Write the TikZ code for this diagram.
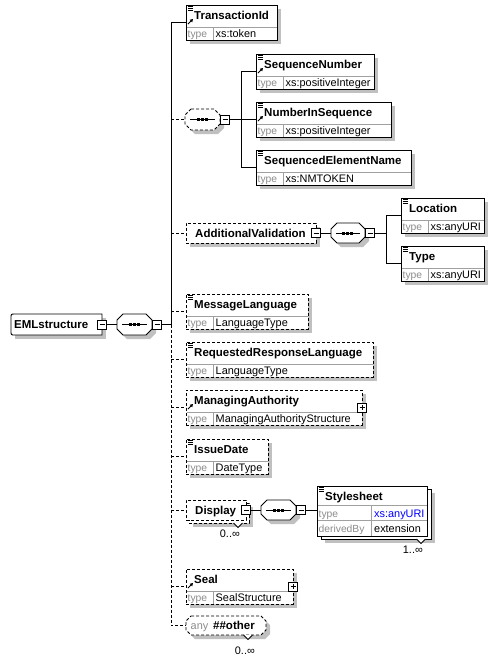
\documentclass[tikz,border=0pt]{standalone}
\usepackage{fontspec}
\setmainfont{Liberation Sans}
\usetikzlibrary{arrows.meta,calc}
\pgfdeclarelayer{bg}
\pgfsetlayers{bg,main}
\definecolor{shadowc}{HTML}{C0C0C0}
\definecolor{divc}{HTML}{A0A0A0}
\definecolor{graytxt}{HTML}{8C8C8C}
\definecolor{uriblue}{HTML}{0000FF}
\tikzset{
  wire/.style={line width=0.9pt},
  optwire/.style={line width=0.9pt, dash pattern=on 3pt off 2pt},
  ebox/.style={draw, fill=white, line width=0.9pt, inner sep=0pt, outer sep=0pt, anchor=north west},
  optbox/.style={ebox, dash pattern=on 3pt off 2pt},
  frame/.style={inner sep=0pt, outer sep=0pt, anchor=north west},
  divider/.style={draw=divc, line width=0.8pt},
  nametxt/.style={font=\fontsize{11.5}{13}\selectfont\bfseries, anchor=base west, inner sep=0pt},
  typelbl/.style={font=\fontsize{10.3}{12}\selectfont, text=graytxt, anchor=base west, inner sep=0pt},
  typetxt/.style={font=\fontsize{10.9}{12}\selectfont, anchor=base west, inner sep=0pt},
  occtxt/.style={font=\fontsize{10.9}{12}\selectfont, anchor=base east, inner sep=0pt},
  pmbox/.style={draw, fill=white, line width=0.9pt, minimum size=9pt, inner sep=0pt, outer sep=0pt},
}
% element box with name row and type row
\newcommand\typedbox[7]{%
  \node[#2, minimum width=#5pt, minimum height=35pt] (#1) at (#3,#4) {};
  \begin{pgfonlayer}{bg}
    \fill[shadowc] ($(#1.north west)+(4,4)$) rectangle ($(#1.south east)+(4,4)$);
  \end{pgfonlayer}
  \draw[divider] ($(#1.north west)+(0.5,22)$) -- ($(#1.north east)+(-0.5,22)$);
  \draw[divider] ($(#1.north west)+(27,22)$) -- ($(#1.south west)+(27,-0.5)$);
  \node[nametxt] (#1-n) at ($(#1.north west)+(8,14)$) {#6};
  \node[typelbl] (#1-tl) at ($(#1.south west)+(1.5,-3)$) {type};
  \node[typetxt] (#1-t) at ($(#1.south west)+(29.5,-3)$) {#7};
}
\newcommand\simpleicon[1]{%
  \foreach \dy in {1.5,3.5,5.5}{\draw[line width=0.9pt] ($(#1.north west)+(2,\dy)$) -- ++(5,0);}%
}
\newcommand\reficon[1]{%
  \draw[line width=0.9pt, -{Triangle[length=3pt,width=3.4pt]}] ($(#1.north west)+(2,19)$) -- ++(5,-5);%
}
\newcommand\minussign[1]{\draw[line width=0.9pt] ($(#1.west)+(2,0)$) -- ($(#1.east)+(-2,0)$);}
\newcommand\plussign[1]{\minussign{#1}\draw[line width=0.9pt] ($(#1.north)+(0,2)$) -- ($(#1.south)+(0,-2)$);}
\newcommand\octP[5]{({#1+#5},#2) -- ({#1+#3-#5},#2) -- ({#1+#3},{#2+#5}) -- ({#1+#3},{#2+#4-#5}) -- ({#1+#3-#5},{#2+#4}) -- ({#1+#5},{#2+#4}) -- (#1,{#2+#4-#5}) -- (#1,{#2+#5}) -- cycle}
% sequence compositor with its minus box
\newcommand\seqcomp[7]{%
  \node[frame, minimum width=#5pt, minimum height=#6pt] (#1) at (#3,#4) {};
  \begin{pgfonlayer}{bg}\fill[shadowc, shift={(4,4)}] \octP{#3}{#4}{#5}{#6}{6};\end{pgfonlayer}
  \draw[fill=white, line width=0.9pt, #2] \octP{#3}{#4}{#5}{#6}{6};
  \draw[line width=0.9pt] ($(#1.west)+(5,0)$) -- ($(#1.east)+(-5,0)$);
  \foreach \dx in {-4,0,4}{\fill ({floor(#3+#5/2-1.5)+\dx},{floor(#4+#6/2)-1}) rectangle ++(3,3);}
  \node[pmbox, anchor=west] (#7) at ($(#1.east)+(0.5,0)$) {};
  \minussign{#7}
}
\newcommand\notch[2]{\draw[fill=white, line width=0.8pt] ({#1-4.5},#2) -- (#1,{#2+4.5}) -- ({#1+4.5},#2);}

\begin{document}
\begin{tikzpicture}[x=1pt,y=-1pt]
\useasboundingbox (0,0) rectangle (499,667);
\begin{pgfonlayer}{bg}\fill[white] (0,0) rectangle (499,667);\end{pgfonlayer}

% ---- root
\node[frame, minimum width=91pt, minimum height=21pt] (EML) at (11,314) {};
\begin{pgfonlayer}{bg}\fill[shadowc] (15,318) rectangle (106,339);\end{pgfonlayer}
\draw[fill=white, line width=0.9pt] (EML.north east) -- ($(EML.north west)+(4,0)$) .. controls (EML.north west) .. ($(EML.north west)+(0,4)$) -- ($(EML.south west)+(0,-4)$) .. controls (EML.south west) .. ($(EML.south west)+(4,0)$) -- (EML.south east) -- cycle;
\node[nametxt] (EMLt) at (14,328.5) {EMLstructure};
\node[pmbox] (EMLm) at (EML.east) {};
\minussign{EMLm}
\seqcomp{RC}{}{117}{314}{35}{21}{RCm}
\coordinate (tk) at (171,324.5);
\draw[wire] (EMLm.east) -- (RC.west);
\draw[wire] (RCm.east) -- (tk);

% ---- TransactionId
\typedbox{TI}{ebox}{186}{5}{91}{TransactionId}{xs:token}
\simpleicon{TI}\reficon{TI}
\draw[wire] (tk) |- (TI.west);

% ---- optional sequence
\seqcomp{S1}{dash pattern=on 3pt off 2pt}{185}{109}{35}{21}{S1m}
\draw[optwire] (tk |- S1.west) -- (S1.west);
\typedbox{SN}{ebox}{256}{54}{118}{SequenceNumber}{xs:positiveInteger}
\simpleicon{SN}\reficon{SN}
\typedbox{NIS}{ebox}{256}{102}{135}{NumberInSequence}{xs:positiveInteger}
\simpleicon{NIS}\reficon{NIS}
\typedbox{SEN}{ebox}{256}{150}{155}{SequencedElementName}{xs:NMTOKEN}
\simpleicon{SEN}
\coordinate (b1) at (241,119.5);
\draw[wire] (S1m.east) -- (b1);
\draw[wire] (b1) |- (SN.west);
\draw[wire] (b1) |- (SEN.west);
\draw[wire] (b1) -- (NIS.west);

% ---- AdditionalValidation
\node[optbox, minimum width=130pt, minimum height=20pt] (AV) at (186,223) {};
\begin{pgfonlayer}{bg}\fill[shadowc] ($(AV.north west)+(4,4)$) rectangle ($(AV.south east)+(4,4)$);\end{pgfonlayer}
\node[nametxt] (AVt) at (195,237) {AdditionalValidation};
\node[pmbox] (AVm) at (AV.east) {};
\minussign{AVm}
\draw[optwire] (tk |- AV.west) -- (AV.west);
\seqcomp{AVC}{}{331}{223}{34}{20}{AVCm}
\draw[wire] (AVm.east) -- (AVC.west);
\typedbox{LOC}{ebox}{401}{198}{83}{Location}{xs:anyURI}
\simpleicon{LOC}
\typedbox{TYP}{ebox}{401}{246}{83}{Type}{xs:anyURI}
\simpleicon{TYP}
\coordinate (b2) at (386,233);
\draw[wire] (AVCm.east) -- (b2);
\draw[wire] (b2) |- (LOC.west);
\draw[wire] (b2) |- (TYP.west);

% ---- optional simple elements
\typedbox{ML}{optbox}{186}{294}{122}{MessageLanguage}{LanguageType}
\simpleicon{ML}
\draw[optwire] (tk |- ML.west) -- (ML.west);
\typedbox{RRL}{optbox}{186}{342}{187}{RequestedResponseLanguage}{LanguageType}
\simpleicon{RRL}
\draw[optwire] (tk |- RRL.west) -- (RRL.west);
\typedbox{MA}{optbox}{186}{390}{176}{ManagingAuthority}{ManagingAuthorityStructure}
\reficon{MA}
\node[pmbox] (MAp) at (MA.east) {};
\plussign{MAp}
\draw[optwire] (tk |- MA.west) -- (MA.west);
\typedbox{ID}{optbox}{186}{439}{82}{IssueDate}{DateType}
\simpleicon{ID}
\draw[optwire] (tk |- ID.west) -- (ID.west);

% ---- Display
\node[optbox, minimum width=60pt, minimum height=20pt] (DSPb) at (189,503) {};
\begin{pgfonlayer}{bg}\fill[shadowc] ($(DSPb.north west)+(4,4)$) rectangle ($(DSPb.south east)+(4,4)$);\end{pgfonlayer}
\node[optbox, minimum width=60pt, minimum height=20pt] (DSP) at (186,500) {};
\node[nametxt] (DSPt) at (195,514) {Display};
\node[pmbox] (DSPm) at (DSP.east) {};
\minussign{DSPm}
\notch{238}{523}
\node[occtxt] (DSPo) at (240,537.5) {0..∞};
\draw[optwire] (tk |- DSP.west) -- (DSP.west);
\seqcomp{DC}{}{261}{500}{35}{20}{DCm}
\draw[wire] (DSPm.east) -- (DC.west);

% ---- Stylesheet
\node[ebox, minimum width=110pt, minimum height=50pt] (SSb) at (321,489) {};
\begin{pgfonlayer}{bg}\fill[shadowc] ($(SSb.north west)+(4,4)$) rectangle ($(SSb.south east)+(4,4)$);\end{pgfonlayer}
\node[ebox, minimum width=110pt, minimum height=50pt] (SS) at (317,486) {};
\draw[divider] (317.5,505) -- (426.5,505);
\draw[divider] (317.5,520.5) -- (426.5,520.5);
\draw[divider] (371,505) -- (371,535.5);
\simpleicon{SS}
\node[nametxt] (SSt) at (325,500) {Stylesheet};
\node[typelbl] (SSl1) at (318.5,517) {type};
\node[typetxt, text=uriblue] (SSv1) at (374,517) {xs:anyURI};
\node[typelbl] (SSl2) at (318.5,532.5) {derivedBy};
\node[typetxt] (SSv2) at (374,532.5) {extension};
\notch{421}{539}
\node[occtxt] (SSo) at (423,553.5) {1..∞};
\draw[wire] (DCm.east) -- (DCm.east -| SS.west);

% ---- Seal
\typedbox{SEAL}{optbox}{186}{569}{107}{Seal}{SealStructure}
\reficon{SEAL}
\node[pmbox] (SEALp) at (SEAL.east) {};
\plussign{SEALp}
\draw[optwire] (tk |- SEAL.west) -- (SEAL.west);

% ---- any
\node[frame, minimum width=80pt, minimum height=19pt] (ANY) at (186,616) {};
\begin{pgfonlayer}{bg}\fill[shadowc, shift={(4,4)}] \octP{186}{616}{80}{19}{5};\end{pgfonlayer}
\draw[fill=white, line width=0.9pt, dash pattern=on 3pt off 2pt] \octP{186}{616}{80}{19}{5};
\node[typelbl, font=\fontsize{10.9}{12}\selectfont] (ANYa) at (190.5,629.5) {any};
\node[nametxt] (ANYo) at (213,629.5) {\#\#other};
\notch{248}{635}
\node[occtxt] (ANYoc) at (255,654.5) {0..∞};
\draw[optwire] (tk) |- (ANY.west);
\end{tikzpicture}
\end{document}
